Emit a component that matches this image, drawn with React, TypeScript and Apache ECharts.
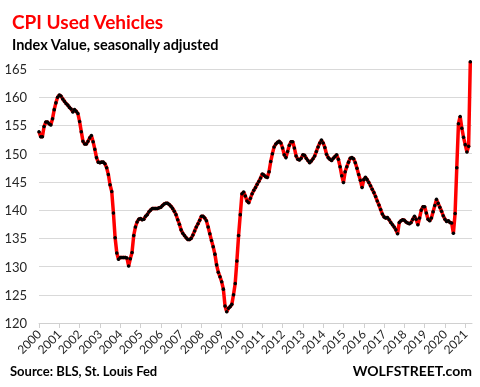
import React, { useEffect, useRef } from "react";
import * as echarts from "echarts";

const startYear = 2000;
const yearLabels = ["2000","2001","2002","2003","2004","2005","2006","2007","2008","2009","2010","2011","2012","2013","2014","2015","2016","2017","2018","2019","2020","2021"];
const yTicks = [120, 125, 130, 135, 140, 145, 150, 155, 160, 165];

// monthly index values, Jan 2000 - Apr 2021
const v2000 = [153.9, 153.0, 153.0, 154.8, 155.6, 155.6, 155.3, 155.1, 156.2, 157.8, 159.0, 160.0];
const v2001 = [160.4, 160.2, 159.7, 159.3, 158.9, 158.6, 158.2, 157.9, 157.4, 157.8, 157.5, 157.1];
const v2002 = [155.7, 153.9, 152.2, 151.7, 151.7, 152.2, 152.8, 153.2, 152.1, 150.8, 149.3, 148.5];
const v2003 = [148.4, 148.5, 148.5, 148.2, 147.5, 146.3, 144.5, 143.3, 139.5, 135.1, 132.4, 131.3];
const v2004 = [131.6, 131.6, 131.6, 131.6, 131.5, 130.1, 131.4, 132.5, 135.5, 137.0, 137.9, 138.4];
const v2005 = [138.5, 138.3, 138.4, 138.9, 139.2, 139.7, 140.0, 140.3, 140.3, 140.3, 140.3, 140.4];
const v2006 = [140.5, 140.8, 141.1, 141.2, 141.2, 141.0, 140.7, 140.3, 139.8, 139.2, 138.3, 137.5];
const v2007 = [136.5, 135.9, 135.5, 135.1, 134.8, 134.8, 135.0, 135.6, 136.3, 137.0, 137.6, 138.2];
const v2008 = [138.9, 138.9, 138.6, 138.1, 137.0, 135.8, 134.6, 133.5, 132.2, 130.3, 129.0, 128.2];
const v2009 = [127.3, 126.0, 123.0, 122.0, 122.6, 122.9, 123.3, 125.0, 127.0, 131.0, 135.5, 139.2];
const v2010 = [142.9, 143.2, 142.5, 141.6, 141.3, 142.1, 142.9, 143.5, 144.0, 144.6, 145.1, 145.7];
const v2011 = [146.4, 146.2, 145.9, 145.8, 146.8, 148.6, 150.0, 151.2, 151.7, 152.0, 152.2, 151.9];
const v2012 = [151.0, 149.8, 149.3, 150.4, 151.5, 152.1, 152.1, 151.0, 149.6, 149.0, 148.9, 149.2];
const v2013 = [149.8, 149.7, 149.2, 148.8, 148.4, 148.7, 149.1, 149.6, 150.4, 151.2, 151.9, 152.4];
const v2014 = [151.9, 151.1, 149.9, 149.3, 149.0, 148.8, 149.2, 149.5, 149.8, 149.0, 147.7, 146.1];
const v2015 = [144.9, 146.8, 147.7, 148.5, 149.2, 149.3, 149.1, 148.4, 147.4, 146.3, 145.3, 144.0];
const v2016 = [145.4, 145.8, 145.4, 144.9, 144.3, 143.7, 143.1, 142.4, 141.6, 140.9, 140.1, 139.3];
const v2017 = [138.8, 138.6, 138.7, 138.3, 137.8, 137.4, 137.0, 136.5, 135.8, 137.8, 138.1, 138.3];
const v2018 = [138.2, 137.9, 137.7, 137.6, 137.8, 138.4, 138.9, 138.4, 137.4, 138.6, 140.0, 140.6];
const v2019 = [140.6, 139.5, 138.4, 138.1, 138.6, 139.7, 140.8, 141.9, 141.2, 140.5, 139.8, 139.0];
const v2020 = [138.4, 138.0, 138.1, 137.8, 137.7, 135.9, 139.4, 147.5, 155.3, 156.6, 154.5, 152.9];
const v2021 = [151.6, 150.3, 151.3, 166.3];

const allYears = [v2000, v2001, v2002, v2003, v2004, v2005, v2006, v2007, v2008, v2009, v2010, v2011, v2012, v2013, v2014, v2015, v2016, v2017, v2018, v2019, v2020, v2021];

export default function App() {
  const ref = useRef<HTMLDivElement>(null);
  useEffect(() => {
    if (!ref.current) return;
    const chart = echarts.init(ref.current, null, { renderer: "svg" });
    const data: number[][] = [];
    allYears.forEach((arr, yi) => {
      arr.forEach((v, mi) => data.push([yi * 12 + mi, v]));
    });
    const font = "Lato, 'Open Sans', sans-serif";
    chart.setOption({
      animation: false,
      textStyle: { fontFamily: font },
      grid: { left: 39, right: 8, top: 69, bottom: 64, containLabel: false },
      xAxis: {
        type: "value",
        min: 0,
        max: 256,
        interval: 12,
        axisLine: { show: true, lineStyle: { color: "#d0d0d0", width: 1 } },
        axisTick: { show: true, length: 5, lineStyle: { color: "#d0d0d0" } },
        splitLine: { show: false },
        axisLabel: {
          rotate: 45,
          margin: 9,
          fontSize: 12,
          color: "#262626",
          fontFamily: font,
          showMaxLabel: false,
          formatter: (v: number) => (v % 12 === 0 ? yearLabels[v / 12] ?? String(startYear + v / 12) : ""),
        },
      },
      yAxis: {
        type: "value",
        min: yTicks[0],
        max: yTicks[yTicks.length - 1],
        interval: 5,
        axisLine: { show: false },
        axisTick: { show: false },
        splitLine: { show: true, lineStyle: { color: "#d9d9d9", width: 1 } },
        axisLabel: { fontSize: 13, color: "#262626", margin: 12, fontFamily: font },
      },
      series: [
        {
          type: "line",
          data,
          clip: false,
          showSymbol: true,
          symbol: "circle",
          symbolSize: 3.5,
          itemStyle: { color: "#000000" },
          lineStyle: { color: "#ff0000", width: 3.5 },
          emphasis: { disabled: true },
        },
      ],
      graphic: [
        { type: "text", left: 12, top: 12, style: { text: "CPI Used Vehicles", fill: "#ff0000", font: `bold 19px ${font}` } },
        { type: "text", left: 12, top: 37, style: { text: "Index Value, seasonally adjusted", fill: "#000000", font: `bold 14.5px ${font}` } },
        { type: "text", left: 10, top: 364, style: { text: "Source: BLS, St. Louis Fed", fill: "#000000", font: `bold 13px ${font}` } },
        { type: "text", right: 8, top: 363, style: { text: "WOLFSTREET.com", fill: "#000000", font: `bold 14px ${font}` } },
      ],
    });
    return () => chart.dispose();
  }, []);
  return <div ref={ref} style={{ position: "fixed", left: 0, top: 0, width: 480, height: 387 }} />;
}
